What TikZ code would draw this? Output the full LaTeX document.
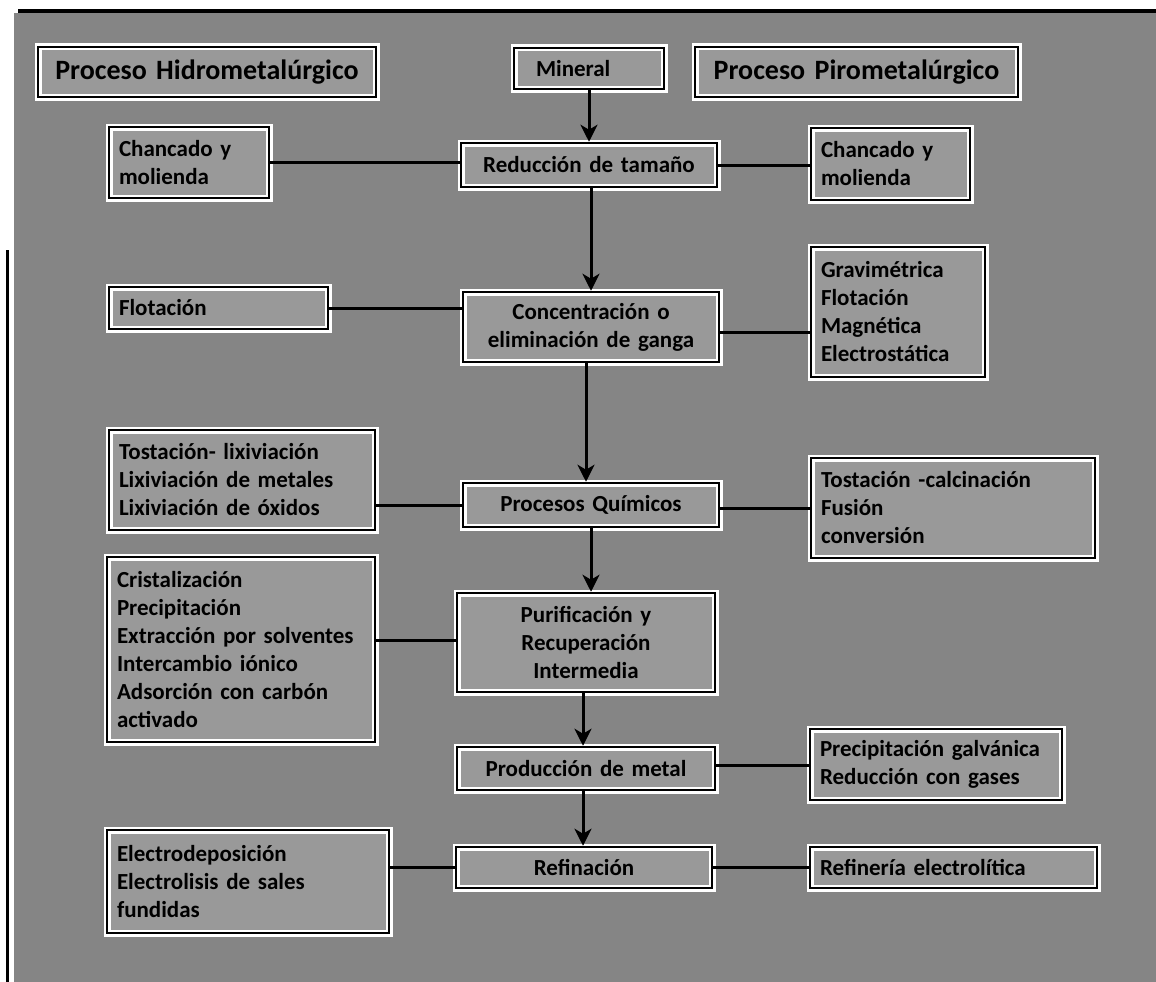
\documentclass[tikz,border=0pt]{standalone}
\usepackage{fontspec}
\setmainfont{Carlito}
\usetikzlibrary{arrows.meta}
\definecolor{bggray}{gray}{0.52}
\definecolor{boxgray}{gray}{0.60}
\begin{document}
\begin{tikzpicture}[x=1pt,y=-1pt,
  bx/.style={draw=white, line width=7pt, fill=boxgray, outer sep=1.25pt,
    inner xsep=10pt, inner ysep=0pt,
    font=\bfseries\fontsize{23}{28}\selectfont,
    postaction={draw=black, line width=2.6pt}},
  ttl/.style={bx, font=\bfseries\fontsize{28}{32}\selectfont, align=center},
  lbox/.style={bx, align=left},
  cbox/.style={bx, align=center},
  conn/.style={line width=3pt},
  arr/.style={line width=3pt, -{Stealth[length=17pt,width=17pt,inset=5pt]}}
]
\useasboundingbox (0,0) rectangle (1156,982);
% background
\fill[bggray] (14,13) rectangle (1156,982);
\draw[line width=3.5pt] (18,11) -- (1156,11);
\draw[line width=3pt] (7,250) -- (7,982);

% titles
\node[ttl, minimum width=338pt, minimum height=50pt, text width=318pt] (hidro) at (207,72) {Proceso Hidrometalúrgico};
\node[lbox, minimum width=150pt, minimum height=41pt, text width=130pt] (mineral) at (589,68.5) {\hspace*{12pt}Mineral};
\node[ttl, minimum width=323pt, minimum height=50pt, text width=303pt] (piro) at (856.5,72) {Proceso Pirometalúrgico};

% central column
\node[cbox, minimum width=256pt, minimum height=44pt, text width=236pt] (red) at (589,165) {Reducción de tamaño};
\node[cbox, minimum width=256pt, minimum height=70pt, text width=236pt] (conc) at (591,327) {Concentración o\\eliminación de ganga};
\node[cbox, minimum width=256pt, minimum height=44pt, text width=236pt] (proc) at (591,505) {Procesos Químicos};
\node[cbox, minimum width=258pt, minimum height=99pt, text width=238pt] (purif) at (586,642.5) {Purificación y\\Recuperación\\Intermedia};
\node[cbox, minimum width=258pt, minimum height=43pt, text width=238pt] (prod) at (586,768.5) {Producción de metal};
\node[cbox, minimum width=256pt, minimum height=41pt, text width=236pt] (ref) at (584,867.5) {Refinación};

% left column
\node[lbox, minimum width=160pt, minimum height=71pt, text width=140pt] (chL) at (189,162.5) {Chancado y\\molienda};
\node[lbox, minimum width=219pt, minimum height=42pt, text width=199pt] (flot) at (218.5,308) {Flotación};
\node[lbox, minimum width=266pt, minimum height=100pt, text width=246pt] (tlix) at (242,480) {Tostación- lixiviación\\Lixiviación de metales\\Lixiviación de óxidos};
\node[lbox, minimum width=268pt, minimum height=185pt, text width=248pt] (crist) at (241,649.5) {Cristalización\\Precipitación\\Extracción por solventes\\Intercambio iónico\\Adsorción con carbón\\activado};
\node[lbox, minimum width=282pt, minimum height=103pt, text width=262pt] (electro) at (248,881.5) {Electrodeposición\\Electrolisis de sales\\fundidas};

% right column
\node[lbox, minimum width=159pt, minimum height=72pt, text width=139pt] (chR) at (890.5,164) {Chancado y\\molienda};
\node[lbox, minimum width=174pt, minimum height=130pt, text width=154pt] (grav) at (898,312) {Gravimétrica\\Flotación\\Magnética\\Electrostática};
\node[lbox, minimum width=284pt, minimum height=100pt, text width=264pt] (tcal) at (953,508) {Tostación -calcinación\\Fusión\\conversión};
\node[lbox, minimum width=252pt, minimum height=71pt, text width=232pt] (precip) at (936,764.5) {Precipitación galvánica\\Reducción con gases};
\node[lbox, minimum width=287pt, minimum height=41pt, text width=267pt] (refel) at (953.5,867.5) {Refinería electrolítica};

% connector anchor points
\coordinate (cE) at ([yshift=-5pt]conc.east);
\coordinate (pE) at ([yshift=-3pt]proc.east);
\coordinate (uW) at ([yshift=2pt]purif.west);
\coordinate (dE) at ([yshift=3pt]prod.east);
\coordinate (rS) at ([xshift=2pt]red.south);
\coordinate (kS) at ([xshift=-5pt]conc.south);
\coordinate (uS) at ([xshift=-3pt]purif.south);
\coordinate (dS) at ([xshift=-3pt]prod.south);

% vertical arrows
\draw[arr] (mineral.south) -- (mineral.south |- red.north);
\draw[arr] (rS) -- (rS |- conc.north);
\draw[arr] (kS) -- (kS |- proc.north);
\draw[arr] (proc.south) -- (proc.south |- purif.north);
\draw[arr] (uS) -- (uS |- prod.north);
\draw[arr] (dS) -- (dS |- ref.north);

% horizontal connectors
\draw[conn] (chL.east) -- (red.west |- chL.east);
\draw[conn] (red.east) -- (chR.west |- red.east);
\draw[conn] (flot.east) -- (conc.west |- flot.east);
\draw[conn] (cE) -- (grav.west |- cE);
\draw[conn] (proc.west) -- (tlix.east |- proc.west);
\draw[conn] (pE) -- (tcal.west |- pE);
\draw[conn] (uW) -- (crist.east |- uW);
\draw[conn] (dE) -- (precip.west |- dE);
\draw[conn] (ref.west) -- (electro.east |- ref.west);
\draw[conn] (ref.east) -- (refel.west);
\end{tikzpicture}
\end{document}
